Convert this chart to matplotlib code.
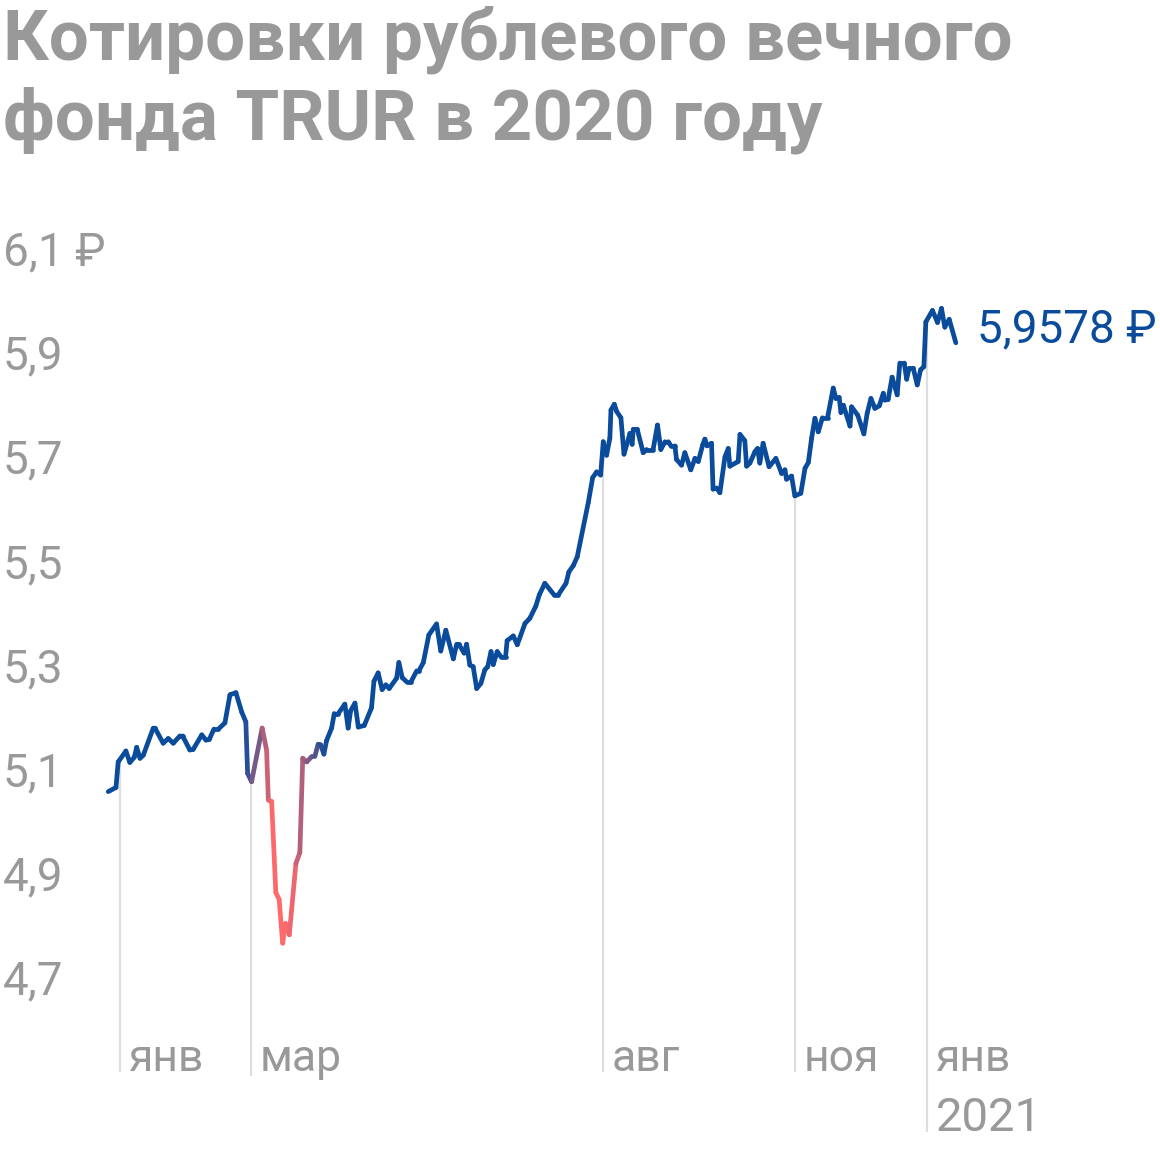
import numpy as np
import matplotlib
matplotlib.use("Agg")
import matplotlib.pyplot as plt
from matplotlib.collections import LineCollection
from matplotlib.transforms import offset_copy, blended_transform_factory
from matplotlib.colors import to_rgb

# ---------------- data ----------------
# x: days from 1 Jan 2020, y: TRUR price (RUB)
days = [-5.3, -1.8, -0.8, 2.7, 4.5, 6.5, 7.6, 9.1, 10.6, 15.1, 15.9, 19.6, 21.9, 24.2,
        27.2, 28.4, 31.7, 33.2, 37.1, 39.0, 40.5, 42.6, 44.6, 47.6, 49.9, 52.6, 55.2,
        57.1, 57.9, 59.7, 64.5, 66.5, 67.3, 68.8, 70.7, 72.2, 73.8, 75.1, 76.8, 79.8,
        81.6, 82.9, 84.7, 86.9, 88.4, 89.9, 91.0, 92.5, 93.7, 96.0, 97.2, 99.0, 102.0,
        103.5, 104.6, 106.6, 108.1, 110.8, 114.1, 115.2, 117.1, 118.9, 120.6, 122.1,
        125.5, 126.5, 128.0, 130.0, 132.0, 134.6, 135.6, 137.6, 140.1, 143.6, 145.5,
        147.8, 151.2, 152.7, 153.7, 156.1, 157.2, 158.7, 160.2, 161.8, 163.7, 165.5,
        166.8, 168.3, 169.3, 171.1, 172.8, 174.9, 175.6, 178.4, 180.2, 183.7, 185.9,
        188.6, 190.2, 192.7, 196.9, 198.8, 202.3, 203.6, 205.6, 207.4, 212.4, 214.4,
        216.2, 218.0, 219.2, 220.7, 222.2, 222.7, 224.2, 225.3, 227.2, 228.6, 231.3,
        232.3, 232.8, 234.6, 237.3, 238.8, 241.8, 243.8, 245.3, 247.2, 248.7, 249.9,
        251.7, 252.4, 254.7, 256.2, 258.9, 260.8, 262.3, 264.3, 265.3, 266.3, 268.3,
        269.0, 270.6, 272.1, 274.4, 275.9, 276.6, 280.4, 281.2, 283.4, 284.2, 285.7,
        288.0, 289.2, 290.2, 291.7, 294.4, 297.5, 300.1, 301.6, 302.3, 304.6, 306.1,
        308.8, 310.7, 312.2, 313.7, 315.2, 316.7, 318.6, 320.9, 323.5, 324.7, 326.2,
        327.0, 328.1, 331.1, 331.8, 334.6, 337.4, 338.9, 340.6, 342.4, 344.4, 346.2,
        346.9, 348.4, 350.2, 352.5, 353.7, 355.7, 356.8, 357.9, 359.8, 361.6, 363.1,
        364.6, 365.5, 368.5, 370.8, 372.6, 374.1, 376.1, 379.1]
price = [5.056, 5.064, 5.113, 5.134, 5.112, 5.122, 5.141, 5.120, 5.126, 5.178, 5.178,
         5.149, 5.158, 5.149, 5.163, 5.163, 5.136, 5.137, 5.165, 5.155, 5.156, 5.176,
         5.176, 5.188, 5.242, 5.246, 5.209, 5.190, 5.091, 5.075, 5.178, 5.136, 5.040,
         5.037, 4.862, 4.849, 4.765, 4.803, 4.781, 4.918, 4.939, 5.120, 5.113, 5.123,
         5.124, 5.147, 5.146, 5.128, 5.154, 5.178, 5.206, 5.206, 5.224, 5.178, 5.211,
         5.226, 5.180, 5.183, 5.217, 5.268, 5.284, 5.252, 5.261, 5.254, 5.274, 5.304,
         5.275, 5.267, 5.267, 5.288, 5.288, 5.304, 5.357, 5.378, 5.326, 5.366, 5.311,
         5.339, 5.339, 5.322, 5.339, 5.299, 5.296, 5.254, 5.264, 5.290, 5.296, 5.325,
         5.300, 5.325, 5.315, 5.315, 5.346, 5.355, 5.338, 5.379, 5.389, 5.412, 5.434,
         5.456, 5.434, 5.434, 5.456, 5.478, 5.490, 5.507, 5.611, 5.659, 5.670, 5.664,
         5.728, 5.702, 5.735, 5.789, 5.800, 5.786, 5.774, 5.704, 5.744, 5.723, 5.752,
         5.752, 5.707, 5.713, 5.713, 5.760, 5.713, 5.728, 5.728, 5.720, 5.720, 5.694,
         5.683, 5.707, 5.674, 5.696, 5.690, 5.722, 5.733, 5.720, 5.725, 5.637, 5.639,
         5.630, 5.699, 5.715, 5.681, 5.690, 5.742, 5.730, 5.681, 5.687, 5.709, 5.715,
         5.687, 5.725, 5.680, 5.696, 5.667, 5.674, 5.656, 5.662, 5.624, 5.629, 5.677,
         5.688, 5.735, 5.773, 5.747, 5.774, 5.774, 5.831, 5.811, 5.813, 5.784, 5.798,
         5.758, 5.795, 5.779, 5.743, 5.783, 5.811, 5.792, 5.797, 5.821, 5.808, 5.809,
         5.852, 5.818, 5.879, 5.879, 5.848, 5.869, 5.869, 5.837, 5.866, 5.872, 5.958,
         5.980, 5.957, 5.984, 5.948, 5.963, 5.918]
last_label = "5,9578 ₽"
last_value = 5.9578

month_pos = [0, 59.4, 219.0, 306.1, 366.0]
month_labels = ["янв", "мар", "авг", "ноя", "янв"]
year_label = "2021"

y_ticks = [6.1, 5.9, 5.7, 5.5, 5.3, 5.1, 4.9, 4.7]
y_tick_labels = ["6,1 ₽", "5,9", "5,7", "5,5", "5,3", "5,1", "4,9", "4,7"]

title_lines = ["Котировки рублевого вечного", "фонда TRUR в 2020 году"]

# ---------------- style ----------------
BLUE = "#0a4b9c"
RED = "#ff6a6a"
GRAY = "#999999"
VGRID = "#dedede"
FONT = ["Roboto", "DejaVu Sans"]
plt.rcParams["font.family"] = FONT

W, H = 1160, 1152
fig = plt.figure(figsize=(W / 100, H / 100), dpi=100)
ax = fig.add_axes([0, 0, 1, 1])
ax.set_xlim(-54.4, 471.7)
ax.set_ylim(4.3639, 6.5763)
ax.axis("off")

x = np.array(days)
y = np.array(price)

# vertical month lines, from bottom to the price line
bottoms = [4.5175, 4.510, 4.5175, 4.5175, 4.4023]
for mp, b in zip(month_pos, bottoms):
    top = np.interp(mp, x, y)
    ax.plot([mp, mp], [b, top], color=VGRID, lw=1.6, zorder=1, solid_capstyle="butt")

# price line with red crash segment (gradient)
def red_weight(d):
    return np.interp(d, [56, 70, 77, 94], [0, 1, 1, 0])

b_rgb = np.array(to_rgb(BLUE))
r_rgb = np.array(to_rgb(RED))
pts = np.column_stack([x, y])
segs = np.stack([pts[:-1], pts[1:]], axis=1)
mids = (x[:-1] + x[1:]) / 2
w = red_weight(mids)[:, None]
cols = b_rgb * (1 - w) + r_rgb * w
lc = LineCollection(segs, colors=cols, linewidths=3.4, capstyle="round",
                    joinstyle="round", zorder=3)
ax.add_collection(lc)

# y tick labels
tr_y = blended_transform_factory(ax.transAxes, ax.transData)
for v, lab in zip(y_ticks, y_tick_labels):
    ax.text(3 / W, v, lab, transform=tr_y, ha="left", va="center_baseline",
            fontsize=33, color=GRAY)

# month labels
lab_tr = offset_copy(ax.transData, fig=fig, x=9, y=0, units="dots")
base_y = 4.519
for mp, lab in zip(month_pos, month_labels):
    ax.text(mp, base_y, lab, transform=lab_tr, ha="left", va="baseline",
            fontsize=32, color=GRAY)
ax.text(month_pos[-1], 4.405, year_label, transform=lab_tr, ha="left",
        va="baseline", fontsize=34, color=GRAY)

# last value label
end_tr = offset_copy(ax.transData, fig=fig, x=21, y=-3, units="dots")
ax.text(x[-1], last_value, last_label, transform=end_tr, ha="left",
        va="center_baseline", fontsize=33, color=BLUE)

# title
fig.text(3 / W, 1 - 60 / H, title_lines[0], ha="left", va="baseline",
         fontsize=51, fontweight="bold", color=GRAY)
fig.text(3 / W, 1 - 139 / H, title_lines[1], ha="left", va="baseline",
         fontsize=51, fontweight="bold", color=GRAY)

fig.savefig("out.png", dpi=100)
